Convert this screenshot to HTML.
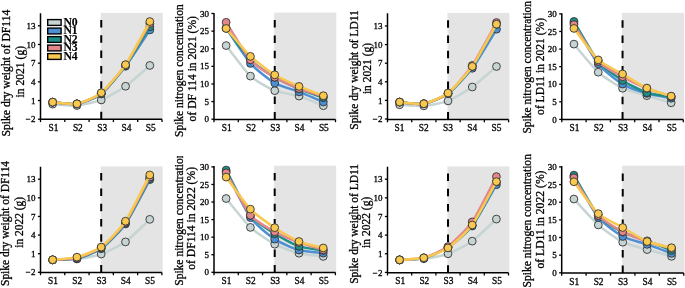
<!DOCTYPE html>
<html><head><meta charset="utf-8"><style>
html,body{margin:0;padding:0;background:#fff;width:685px;height:288px;overflow:hidden;}
svg{display:block;will-change:transform;font-family:"Liberation Serif", serif;}
text{stroke:#000;stroke-width:0.3;}
.lg{stroke-width:0.15;}
</style></head><body>
<svg width="685" height="288" viewBox="0 0 685 288" font-family='"Liberation Serif", serif'>
<defs><clipPath id="c6"><rect x="170" y="156.1" width="40" height="140"/></clipPath></defs>
<rect x="100.65" y="12.9" width="62.15" height="106.4" fill="#e4e4e4"/>
<line x1="101.25" y1="119.3" x2="101.25" y2="13.3" stroke="#000" stroke-width="2" stroke-dasharray="7.5 7.8"/>
<path d="M52.65 104.13 C55.08 104.27 72.09 105.92 76.95 105.5 C81.81 105.08 96.39 101.88 101.25 99.96 C106.11 98.04 120.69 89.71 125.55 86.26 C130.41 82.81 147.42 67.54 149.85 65.46" fill="none" stroke="#c6d4d3" stroke-width="2.5" stroke-linejoin="round"/>
<circle cx="52.65" cy="104.13" r="3.9" fill="#c6d4d3" stroke="#333" stroke-width="0.9"/>
<circle cx="76.95" cy="105.5" r="3.9" fill="#c6d4d3" stroke="#333" stroke-width="0.9"/>
<circle cx="101.25" cy="99.96" r="3.9" fill="#c6d4d3" stroke="#333" stroke-width="0.9"/>
<circle cx="125.55" cy="86.26" r="3.9" fill="#c6d4d3" stroke="#333" stroke-width="0.9"/>
<circle cx="149.85" cy="65.46" r="3.9" fill="#c6d4d3" stroke="#333" stroke-width="0.9"/>
<path d="M52.65 102.2 C55.08 102.37 72.09 104.7 76.95 103.88 C81.81 103.06 96.39 97.74 101.25 93.98 C106.11 90.22 120.69 72.68 125.55 66.27 C130.41 59.87 147.42 33.55 149.85 29.91" fill="none" stroke="#4d8fd3" stroke-width="2.5" stroke-linejoin="round"/>
<circle cx="52.65" cy="102.2" r="3.9" fill="#4d8fd3" stroke="#333" stroke-width="0.9"/>
<circle cx="76.95" cy="103.88" r="3.9" fill="#4d8fd3" stroke="#333" stroke-width="0.9"/>
<circle cx="101.25" cy="93.98" r="3.9" fill="#4d8fd3" stroke="#333" stroke-width="0.9"/>
<circle cx="125.55" cy="66.27" r="3.9" fill="#4d8fd3" stroke="#333" stroke-width="0.9"/>
<circle cx="149.85" cy="29.91" r="3.9" fill="#4d8fd3" stroke="#333" stroke-width="0.9"/>
<path d="M52.65 102.2 C55.08 102.37 72.09 104.74 76.95 103.88 C81.81 103.03 96.39 97.51 101.25 93.67 C106.11 89.84 120.69 72.23 125.55 65.53 C130.41 58.83 147.42 30.56 149.85 26.67" fill="none" stroke="#1c8f86" stroke-width="2.5" stroke-linejoin="round"/>
<circle cx="52.65" cy="102.2" r="3.9" fill="#1c8f86" stroke="#333" stroke-width="0.9"/>
<circle cx="76.95" cy="103.88" r="3.9" fill="#1c8f86" stroke="#333" stroke-width="0.9"/>
<circle cx="101.25" cy="93.67" r="3.9" fill="#1c8f86" stroke="#333" stroke-width="0.9"/>
<circle cx="125.55" cy="65.53" r="3.9" fill="#1c8f86" stroke="#333" stroke-width="0.9"/>
<circle cx="149.85" cy="26.67" r="3.9" fill="#1c8f86" stroke="#333" stroke-width="0.9"/>
<path d="M52.65 102.2 C55.08 102.37 72.09 104.77 76.95 103.88 C81.81 103 96.39 97.26 101.25 93.36 C106.11 89.46 120.69 71.9 125.55 64.9 C130.41 57.91 147.42 27.58 149.85 23.43" fill="none" stroke="#e4868a" stroke-width="2.5" stroke-linejoin="round"/>
<circle cx="52.65" cy="102.2" r="3.9" fill="#e4868a" stroke="#333" stroke-width="0.9"/>
<circle cx="76.95" cy="103.88" r="3.9" fill="#e4868a" stroke="#333" stroke-width="0.9"/>
<circle cx="101.25" cy="93.36" r="3.9" fill="#e4868a" stroke="#333" stroke-width="0.9"/>
<circle cx="125.55" cy="64.9" r="3.9" fill="#e4868a" stroke="#333" stroke-width="0.9"/>
<circle cx="149.85" cy="23.43" r="3.9" fill="#e4868a" stroke="#333" stroke-width="0.9"/>
<path d="M52.65 102.14 C55.08 102.31 72.09 104.76 76.95 103.82 C81.81 102.88 96.39 96.65 101.25 92.74 C106.11 88.83 120.69 71.83 125.55 64.72 C130.41 57.6 147.42 25.88 149.85 21.57" fill="none" stroke="#f8c84f" stroke-width="2.5" stroke-linejoin="round"/>
<circle cx="52.65" cy="102.14" r="3.9" fill="#f8c84f" stroke="#333" stroke-width="0.9"/>
<circle cx="76.95" cy="103.82" r="3.9" fill="#f8c84f" stroke="#333" stroke-width="0.9"/>
<circle cx="101.25" cy="92.74" r="3.9" fill="#f8c84f" stroke="#333" stroke-width="0.9"/>
<circle cx="125.55" cy="64.72" r="3.9" fill="#f8c84f" stroke="#333" stroke-width="0.9"/>
<circle cx="149.85" cy="21.57" r="3.9" fill="#f8c84f" stroke="#333" stroke-width="0.9"/>
<path d="M40.5 13.3 V119.3 H162" fill="none" stroke="#000" stroke-width="1.5" stroke-linecap="butt"/>
<line x1="40.5" y1="119.3" x2="40.5" y2="122.1" stroke="#000" stroke-width="1.3"/>
<line x1="64.8" y1="119.3" x2="64.8" y2="122.1" stroke="#000" stroke-width="1.3"/>
<line x1="89.1" y1="119.3" x2="89.1" y2="122.1" stroke="#000" stroke-width="1.3"/>
<line x1="113.4" y1="119.3" x2="113.4" y2="122.1" stroke="#000" stroke-width="1.3"/>
<line x1="137.7" y1="119.3" x2="137.7" y2="122.1" stroke="#000" stroke-width="1.3"/>
<line x1="162" y1="119.3" x2="162" y2="122.1" stroke="#000" stroke-width="1.3"/>
<line x1="37.9" y1="119.2" x2="40.5" y2="119.2" stroke="#000" stroke-width="1.3"/>
<text x="35.5" y="122.3" text-anchor="end" font-size="9">−<tspan dx="0.7">2</tspan></text>
<line x1="37.9" y1="100.52" x2="40.5" y2="100.52" stroke="#000" stroke-width="1.3"/>
<text x="35.5" y="103.62" text-anchor="end" font-size="9">1</text>
<line x1="37.9" y1="81.84" x2="40.5" y2="81.84" stroke="#000" stroke-width="1.3"/>
<text x="35.5" y="84.94" text-anchor="end" font-size="9">4</text>
<line x1="37.9" y1="63.16" x2="40.5" y2="63.16" stroke="#000" stroke-width="1.3"/>
<text x="35.5" y="66.26" text-anchor="end" font-size="9">7</text>
<line x1="37.9" y1="44.48" x2="40.5" y2="44.48" stroke="#000" stroke-width="1.3"/>
<text x="35.5" y="47.58" text-anchor="end" font-size="9">10</text>
<line x1="37.9" y1="25.8" x2="40.5" y2="25.8" stroke="#000" stroke-width="1.3"/>
<text x="35.5" y="28.9" text-anchor="end" font-size="9">13</text>
<text x="53.55" y="130.9" text-anchor="middle" font-size="9.4">S1</text>
<text x="77.85" y="130.9" text-anchor="middle" font-size="9.4">S2</text>
<text x="102.15" y="130.9" text-anchor="middle" font-size="9.4">S3</text>
<text x="126.45" y="130.9" text-anchor="middle" font-size="9.4">S4</text>
<text x="150.75" y="130.9" text-anchor="middle" font-size="9.4">S5</text>
<text transform="translate(10.2 73.1) rotate(-90)" text-anchor="middle" font-size="11.45" textLength="126.8" lengthAdjust="spacingAndGlyphs" class="lab">Spike dry weight of DF114</text>
<text transform="translate(23.5 71.7) rotate(-90)" text-anchor="middle" font-size="11.45" textLength="51.4" lengthAdjust="spacingAndGlyphs" class="lab">in 2021 (g)</text>
<rect x="274.15" y="12.6" width="62.15" height="106.8" fill="#e4e4e4"/>
<line x1="274.75" y1="119.4" x2="274.75" y2="13" stroke="#000" stroke-width="2" stroke-dasharray="7.5 7.8"/>
<path d="M226.15 45.56 C228.58 48.62 245.59 71.6 250.45 76.11 C255.31 80.62 269.89 88.66 274.75 90.66 C279.61 92.66 294.19 94.58 299.05 96.09 C303.91 97.59 320.92 104.74 323.35 105.71" fill="none" stroke="#c6d4d3" stroke-width="2.5" stroke-linejoin="round"/>
<circle cx="226.15" cy="45.56" r="3.9" fill="#c6d4d3" stroke="#333" stroke-width="0.9"/>
<circle cx="250.45" cy="76.11" r="3.9" fill="#c6d4d3" stroke="#333" stroke-width="0.9"/>
<circle cx="274.75" cy="90.66" r="3.9" fill="#c6d4d3" stroke="#333" stroke-width="0.9"/>
<circle cx="299.05" cy="96.09" r="3.9" fill="#c6d4d3" stroke="#333" stroke-width="0.9"/>
<circle cx="323.35" cy="105.71" r="3.9" fill="#c6d4d3" stroke="#333" stroke-width="0.9"/>
<path d="M226.15 28.3 C228.58 31.81 245.59 57.91 250.45 63.39 C255.31 68.87 269.89 80.24 274.75 83.09 C279.61 85.94 294.19 90 299.05 91.89 C303.91 93.79 320.92 100.99 323.35 102.01" fill="none" stroke="#4d8fd3" stroke-width="2.5" stroke-linejoin="round"/>
<circle cx="226.15" cy="28.3" r="3.9" fill="#4d8fd3" stroke="#333" stroke-width="0.9"/>
<circle cx="250.45" cy="63.39" r="3.9" fill="#4d8fd3" stroke="#333" stroke-width="0.9"/>
<circle cx="274.75" cy="83.09" r="3.9" fill="#4d8fd3" stroke="#333" stroke-width="0.9"/>
<circle cx="299.05" cy="91.89" r="3.9" fill="#4d8fd3" stroke="#333" stroke-width="0.9"/>
<circle cx="323.35" cy="102.01" r="3.9" fill="#4d8fd3" stroke="#333" stroke-width="0.9"/>
<path d="M226.15 27.95 C228.58 31.14 245.59 54.97 250.45 59.9 C255.31 64.83 269.89 74.37 274.75 77.27 C279.61 80.17 294.19 86.86 299.05 88.9 C303.91 90.94 320.92 96.83 323.35 97.71" fill="none" stroke="#1c8f86" stroke-width="2.5" stroke-linejoin="round"/>
<circle cx="226.15" cy="27.95" r="3.9" fill="#1c8f86" stroke="#333" stroke-width="0.9"/>
<circle cx="250.45" cy="59.9" r="3.9" fill="#1c8f86" stroke="#333" stroke-width="0.9"/>
<circle cx="274.75" cy="77.27" r="3.9" fill="#1c8f86" stroke="#333" stroke-width="0.9"/>
<circle cx="299.05" cy="88.9" r="3.9" fill="#1c8f86" stroke="#333" stroke-width="0.9"/>
<circle cx="323.35" cy="97.71" r="3.9" fill="#1c8f86" stroke="#333" stroke-width="0.9"/>
<path d="M226.15 22.31 C228.58 26.07 245.59 54.41 250.45 59.9 C255.31 65.4 269.89 74.4 274.75 77.27 C279.61 80.14 294.19 86.71 299.05 88.62 C303.91 90.52 320.92 95.53 323.35 96.3" fill="none" stroke="#e4868a" stroke-width="2.5" stroke-linejoin="round"/>
<circle cx="226.15" cy="22.31" r="3.9" fill="#e4868a" stroke="#333" stroke-width="0.9"/>
<circle cx="250.45" cy="59.9" r="3.9" fill="#e4868a" stroke="#333" stroke-width="0.9"/>
<circle cx="274.75" cy="77.27" r="3.9" fill="#e4868a" stroke="#333" stroke-width="0.9"/>
<circle cx="299.05" cy="88.62" r="3.9" fill="#e4868a" stroke="#333" stroke-width="0.9"/>
<circle cx="323.35" cy="96.3" r="3.9" fill="#e4868a" stroke="#333" stroke-width="0.9"/>
<path d="M226.15 28.47 C228.58 31.26 245.59 51.75 250.45 56.38 C255.31 61.01 269.89 71.8 274.75 74.81 C279.61 77.81 294.19 84.31 299.05 86.4 C303.91 88.49 320.92 94.77 323.35 95.7" fill="none" stroke="#f8c84f" stroke-width="2.5" stroke-linejoin="round"/>
<circle cx="226.15" cy="28.47" r="3.9" fill="#f8c84f" stroke="#333" stroke-width="0.9"/>
<circle cx="250.45" cy="56.38" r="3.9" fill="#f8c84f" stroke="#333" stroke-width="0.9"/>
<circle cx="274.75" cy="74.81" r="3.9" fill="#f8c84f" stroke="#333" stroke-width="0.9"/>
<circle cx="299.05" cy="86.4" r="3.9" fill="#f8c84f" stroke="#333" stroke-width="0.9"/>
<circle cx="323.35" cy="95.7" r="3.9" fill="#f8c84f" stroke="#333" stroke-width="0.9"/>
<path d="M214 13 V119.4 H335.5" fill="none" stroke="#000" stroke-width="1.5" stroke-linecap="butt"/>
<line x1="214" y1="119.4" x2="214" y2="122.2" stroke="#000" stroke-width="1.3"/>
<line x1="238.3" y1="119.4" x2="238.3" y2="122.2" stroke="#000" stroke-width="1.3"/>
<line x1="262.6" y1="119.4" x2="262.6" y2="122.2" stroke="#000" stroke-width="1.3"/>
<line x1="286.9" y1="119.4" x2="286.9" y2="122.2" stroke="#000" stroke-width="1.3"/>
<line x1="311.2" y1="119.4" x2="311.2" y2="122.2" stroke="#000" stroke-width="1.3"/>
<line x1="335.5" y1="119.4" x2="335.5" y2="122.2" stroke="#000" stroke-width="1.3"/>
<line x1="211.4" y1="119.2" x2="214" y2="119.2" stroke="#000" stroke-width="1.3"/>
<text x="209" y="122.3" text-anchor="end" font-size="9">0</text>
<line x1="211.4" y1="101.58" x2="214" y2="101.58" stroke="#000" stroke-width="1.3"/>
<text x="209" y="104.68" text-anchor="end" font-size="9">5</text>
<line x1="211.4" y1="83.97" x2="214" y2="83.97" stroke="#000" stroke-width="1.3"/>
<text x="209" y="87.07" text-anchor="end" font-size="9">10</text>
<line x1="211.4" y1="66.35" x2="214" y2="66.35" stroke="#000" stroke-width="1.3"/>
<text x="209" y="69.45" text-anchor="end" font-size="9">15</text>
<line x1="211.4" y1="48.73" x2="214" y2="48.73" stroke="#000" stroke-width="1.3"/>
<text x="209" y="51.83" text-anchor="end" font-size="9">20</text>
<line x1="211.4" y1="31.12" x2="214" y2="31.12" stroke="#000" stroke-width="1.3"/>
<text x="209" y="34.22" text-anchor="end" font-size="9">25</text>
<line x1="211.4" y1="13.5" x2="214" y2="13.5" stroke="#000" stroke-width="1.3"/>
<text x="209" y="16.6" text-anchor="end" font-size="9">30</text>
<text x="226.65" y="131" text-anchor="middle" font-size="9.4">S1</text>
<text x="250.95" y="131" text-anchor="middle" font-size="9.4">S2</text>
<text x="275.25" y="131" text-anchor="middle" font-size="9.4">S3</text>
<text x="299.55" y="131" text-anchor="middle" font-size="9.4">S4</text>
<text x="323.85" y="131" text-anchor="middle" font-size="9.4">S5</text>
<text transform="translate(183.1 70.6) rotate(-90)" text-anchor="middle" font-size="11.45" textLength="132.8" lengthAdjust="spacingAndGlyphs" class="lab">Spike nitrogen concentration</text>
<text transform="translate(195.5 68.75) rotate(-90)" text-anchor="middle" font-size="11.45" textLength="105.3" lengthAdjust="spacingAndGlyphs" class="lab">of DF 114 in 2021 (%)</text>
<rect x="447.45" y="12.9" width="61.95" height="106.6" fill="#e4e4e4"/>
<line x1="448.05" y1="119.5" x2="448.05" y2="13.3" stroke="#000" stroke-width="2" stroke-dasharray="7.5 7.8"/>
<path d="M399.61 104.74 C402.03 104.85 418.99 106.24 423.83 105.86 C428.67 105.47 443.21 102.78 448.05 100.9 C452.89 99.01 467.43 90.45 472.27 87.01 C477.11 83.57 494.07 68.54 496.49 66.49" fill="none" stroke="#c6d4d3" stroke-width="2.5" stroke-linejoin="round"/>
<circle cx="399.61" cy="104.74" r="3.9" fill="#c6d4d3" stroke="#333" stroke-width="0.9"/>
<circle cx="423.83" cy="105.86" r="3.9" fill="#c6d4d3" stroke="#333" stroke-width="0.9"/>
<circle cx="448.05" cy="100.9" r="3.9" fill="#c6d4d3" stroke="#333" stroke-width="0.9"/>
<circle cx="472.27" cy="87.01" r="3.9" fill="#c6d4d3" stroke="#333" stroke-width="0.9"/>
<circle cx="496.49" cy="66.49" r="3.9" fill="#c6d4d3" stroke="#333" stroke-width="0.9"/>
<path d="M399.61 102.07 C402.03 102.24 418.99 104.6 423.83 103.75 C428.67 102.9 443.21 97.13 448.05 93.58 C452.89 90.03 467.43 74.72 472.27 68.28 C477.11 61.85 494.07 33.13 496.49 29.22" fill="none" stroke="#4d8fd3" stroke-width="2.5" stroke-linejoin="round"/>
<circle cx="399.61" cy="102.07" r="3.9" fill="#4d8fd3" stroke="#333" stroke-width="0.9"/>
<circle cx="423.83" cy="103.75" r="3.9" fill="#4d8fd3" stroke="#333" stroke-width="0.9"/>
<circle cx="448.05" cy="93.58" r="3.9" fill="#4d8fd3" stroke="#333" stroke-width="0.9"/>
<circle cx="472.27" cy="68.28" r="3.9" fill="#4d8fd3" stroke="#333" stroke-width="0.9"/>
<circle cx="496.49" cy="29.22" r="3.9" fill="#4d8fd3" stroke="#333" stroke-width="0.9"/>
<path d="M399.61 102.07 C402.03 102.24 418.99 104.6 423.83 103.75 C428.67 102.9 443.21 97.29 448.05 93.58 C452.89 89.87 467.43 73.52 472.27 66.61 C477.11 59.7 494.07 28.67 496.49 24.45" fill="none" stroke="#1c8f86" stroke-width="2.5" stroke-linejoin="round"/>
<circle cx="399.61" cy="102.07" r="3.9" fill="#1c8f86" stroke="#333" stroke-width="0.9"/>
<circle cx="423.83" cy="103.75" r="3.9" fill="#1c8f86" stroke="#333" stroke-width="0.9"/>
<circle cx="448.05" cy="93.58" r="3.9" fill="#1c8f86" stroke="#333" stroke-width="0.9"/>
<circle cx="472.27" cy="66.61" r="3.9" fill="#1c8f86" stroke="#333" stroke-width="0.9"/>
<circle cx="496.49" cy="24.45" r="3.9" fill="#1c8f86" stroke="#333" stroke-width="0.9"/>
<path d="M399.61 102.07 C402.03 102.24 418.99 104.61 423.83 103.75 C428.67 102.89 443.21 97.28 448.05 93.46 C452.89 89.63 467.43 72.59 472.27 65.49 C477.11 58.4 494.07 26.82 496.49 22.53" fill="none" stroke="#e4868a" stroke-width="2.5" stroke-linejoin="round"/>
<circle cx="399.61" cy="102.07" r="3.9" fill="#e4868a" stroke="#333" stroke-width="0.9"/>
<circle cx="423.83" cy="103.75" r="3.9" fill="#e4868a" stroke="#333" stroke-width="0.9"/>
<circle cx="448.05" cy="93.46" r="3.9" fill="#e4868a" stroke="#333" stroke-width="0.9"/>
<circle cx="472.27" cy="65.49" r="3.9" fill="#e4868a" stroke="#333" stroke-width="0.9"/>
<circle cx="496.49" cy="22.53" r="3.9" fill="#e4868a" stroke="#333" stroke-width="0.9"/>
<path d="M399.61 102.07 C402.03 102.24 418.99 104.65 423.83 103.75 C428.67 102.84 443.21 96.75 448.05 93.02 C452.89 89.29 467.43 73.31 472.27 66.42 C477.11 59.54 494.07 28.42 496.49 24.2" fill="none" stroke="#f8c84f" stroke-width="2.5" stroke-linejoin="round"/>
<circle cx="399.61" cy="102.07" r="3.9" fill="#f8c84f" stroke="#333" stroke-width="0.9"/>
<circle cx="423.83" cy="103.75" r="3.9" fill="#f8c84f" stroke="#333" stroke-width="0.9"/>
<circle cx="448.05" cy="93.02" r="3.9" fill="#f8c84f" stroke="#333" stroke-width="0.9"/>
<circle cx="472.27" cy="66.42" r="3.9" fill="#f8c84f" stroke="#333" stroke-width="0.9"/>
<circle cx="496.49" cy="24.2" r="3.9" fill="#f8c84f" stroke="#333" stroke-width="0.9"/>
<path d="M387.5 13.3 V119.5 H508.6" fill="none" stroke="#000" stroke-width="1.5" stroke-linecap="butt"/>
<line x1="387.5" y1="119.5" x2="387.5" y2="122.3" stroke="#000" stroke-width="1.3"/>
<line x1="411.72" y1="119.5" x2="411.72" y2="122.3" stroke="#000" stroke-width="1.3"/>
<line x1="435.94" y1="119.5" x2="435.94" y2="122.3" stroke="#000" stroke-width="1.3"/>
<line x1="460.16" y1="119.5" x2="460.16" y2="122.3" stroke="#000" stroke-width="1.3"/>
<line x1="484.38" y1="119.5" x2="484.38" y2="122.3" stroke="#000" stroke-width="1.3"/>
<line x1="508.6" y1="119.5" x2="508.6" y2="122.3" stroke="#000" stroke-width="1.3"/>
<line x1="384.9" y1="119" x2="387.5" y2="119" stroke="#000" stroke-width="1.3"/>
<text x="382.5" y="122.1" text-anchor="end" font-size="9">−<tspan dx="0.7">2</tspan></text>
<line x1="384.9" y1="100.4" x2="387.5" y2="100.4" stroke="#000" stroke-width="1.3"/>
<text x="382.5" y="103.5" text-anchor="end" font-size="9">1</text>
<line x1="384.9" y1="81.8" x2="387.5" y2="81.8" stroke="#000" stroke-width="1.3"/>
<text x="382.5" y="84.9" text-anchor="end" font-size="9">4</text>
<line x1="384.9" y1="63.2" x2="387.5" y2="63.2" stroke="#000" stroke-width="1.3"/>
<text x="382.5" y="66.3" text-anchor="end" font-size="9">7</text>
<line x1="384.9" y1="44.6" x2="387.5" y2="44.6" stroke="#000" stroke-width="1.3"/>
<text x="382.5" y="47.7" text-anchor="end" font-size="9">10</text>
<line x1="384.9" y1="26" x2="387.5" y2="26" stroke="#000" stroke-width="1.3"/>
<text x="382.5" y="29.1" text-anchor="end" font-size="9">13</text>
<text x="399.51" y="131.1" text-anchor="middle" font-size="9.4">S1</text>
<text x="423.73" y="131.1" text-anchor="middle" font-size="9.4">S2</text>
<text x="447.95" y="131.1" text-anchor="middle" font-size="9.4">S3</text>
<text x="472.17" y="131.1" text-anchor="middle" font-size="9.4">S4</text>
<text x="496.39" y="131.1" text-anchor="middle" font-size="9.4">S5</text>
<text transform="translate(357.8 70) rotate(-90)" text-anchor="middle" font-size="11.45" textLength="119.4" lengthAdjust="spacingAndGlyphs" class="lab">Spike dry weight of LD11</text>
<text transform="translate(370.5 68.5) rotate(-90)" text-anchor="middle" font-size="11.45" textLength="51.2" lengthAdjust="spacingAndGlyphs" class="lab">in 2021 (g)</text>
<rect x="621.95" y="12.85" width="62.15" height="106.65" fill="#e4e4e4"/>
<line x1="622.55" y1="119.5" x2="622.55" y2="13.25" stroke="#000" stroke-width="2" stroke-dasharray="7.5 7.8"/>
<path d="M573.95 44.14 C576.38 46.95 593.39 67.8 598.25 72.21 C603.11 76.62 617.69 85.9 622.55 88.24 C627.41 90.59 641.99 94.21 646.85 95.66 C651.71 97.12 668.72 102.09 671.15 102.8" fill="none" stroke="#c6d4d3" stroke-width="2.5" stroke-linejoin="round"/>
<circle cx="573.95" cy="44.14" r="3.9" fill="#c6d4d3" stroke="#333" stroke-width="0.9"/>
<circle cx="598.25" cy="72.21" r="3.9" fill="#c6d4d3" stroke="#333" stroke-width="0.9"/>
<circle cx="622.55" cy="88.24" r="3.9" fill="#c6d4d3" stroke="#333" stroke-width="0.9"/>
<circle cx="646.85" cy="95.66" r="3.9" fill="#c6d4d3" stroke="#333" stroke-width="0.9"/>
<circle cx="671.15" cy="102.8" r="3.9" fill="#c6d4d3" stroke="#333" stroke-width="0.9"/>
<path d="M573.95 23.04 C576.38 27.13 593.39 57.81 598.25 63.91 C603.11 70.01 617.69 81.11 622.55 84.06 C627.41 87 641.99 91.96 646.85 93.38 C651.71 94.8 668.72 97.78 671.15 98.26" fill="none" stroke="#4d8fd3" stroke-width="2.5" stroke-linejoin="round"/>
<circle cx="573.95" cy="23.04" r="3.9" fill="#4d8fd3" stroke="#333" stroke-width="0.9"/>
<circle cx="598.25" cy="63.91" r="3.9" fill="#4d8fd3" stroke="#333" stroke-width="0.9"/>
<circle cx="622.55" cy="84.06" r="3.9" fill="#4d8fd3" stroke="#333" stroke-width="0.9"/>
<circle cx="646.85" cy="93.38" r="3.9" fill="#4d8fd3" stroke="#333" stroke-width="0.9"/>
<circle cx="671.15" cy="98.26" r="3.9" fill="#4d8fd3" stroke="#333" stroke-width="0.9"/>
<path d="M573.95 21.43 C576.38 25.44 593.39 55.65 598.25 61.55 C603.11 67.45 617.69 77.32 622.55 80.44 C627.41 83.55 641.99 91.11 646.85 92.74 C651.71 94.38 668.72 96.38 671.15 96.79" fill="none" stroke="#1c8f86" stroke-width="2.5" stroke-linejoin="round"/>
<circle cx="573.95" cy="21.43" r="3.9" fill="#1c8f86" stroke="#333" stroke-width="0.9"/>
<circle cx="598.25" cy="61.55" r="3.9" fill="#1c8f86" stroke="#333" stroke-width="0.9"/>
<circle cx="622.55" cy="80.44" r="3.9" fill="#1c8f86" stroke="#333" stroke-width="0.9"/>
<circle cx="646.85" cy="92.74" r="3.9" fill="#1c8f86" stroke="#333" stroke-width="0.9"/>
<circle cx="671.15" cy="96.79" r="3.9" fill="#1c8f86" stroke="#333" stroke-width="0.9"/>
<path d="M573.95 24.63 C576.38 28.3 593.39 56.2 598.25 61.41 C603.11 66.62 617.69 74.04 622.55 76.74 C627.41 79.45 641.99 86.49 646.85 88.45 C651.71 90.42 668.72 95.57 671.15 96.37" fill="none" stroke="#e4868a" stroke-width="2.5" stroke-linejoin="round"/>
<circle cx="573.95" cy="24.63" r="3.9" fill="#e4868a" stroke="#333" stroke-width="0.9"/>
<circle cx="598.25" cy="61.41" r="3.9" fill="#e4868a" stroke="#333" stroke-width="0.9"/>
<circle cx="622.55" cy="76.74" r="3.9" fill="#e4868a" stroke="#333" stroke-width="0.9"/>
<circle cx="646.85" cy="88.45" r="3.9" fill="#e4868a" stroke="#333" stroke-width="0.9"/>
<circle cx="671.15" cy="96.37" r="3.9" fill="#e4868a" stroke="#333" stroke-width="0.9"/>
<path d="M573.95 28.42 C576.38 31.57 593.39 55.34 598.25 59.9 C603.11 64.46 617.69 71.18 622.55 74 C627.41 76.82 641.99 85.89 646.85 88.1 C651.71 90.31 668.72 95.32 671.15 96.12" fill="none" stroke="#f8c84f" stroke-width="2.5" stroke-linejoin="round"/>
<circle cx="573.95" cy="28.42" r="3.9" fill="#f8c84f" stroke="#333" stroke-width="0.9"/>
<circle cx="598.25" cy="59.9" r="3.9" fill="#f8c84f" stroke="#333" stroke-width="0.9"/>
<circle cx="622.55" cy="74" r="3.9" fill="#f8c84f" stroke="#333" stroke-width="0.9"/>
<circle cx="646.85" cy="88.1" r="3.9" fill="#f8c84f" stroke="#333" stroke-width="0.9"/>
<circle cx="671.15" cy="96.12" r="3.9" fill="#f8c84f" stroke="#333" stroke-width="0.9"/>
<path d="M561.8 13.25 V119.5 H683.3" fill="none" stroke="#000" stroke-width="1.5" stroke-linecap="butt"/>
<line x1="561.8" y1="119.5" x2="561.8" y2="122.3" stroke="#000" stroke-width="1.3"/>
<line x1="586.1" y1="119.5" x2="586.1" y2="122.3" stroke="#000" stroke-width="1.3"/>
<line x1="610.4" y1="119.5" x2="610.4" y2="122.3" stroke="#000" stroke-width="1.3"/>
<line x1="634.7" y1="119.5" x2="634.7" y2="122.3" stroke="#000" stroke-width="1.3"/>
<line x1="659" y1="119.5" x2="659" y2="122.3" stroke="#000" stroke-width="1.3"/>
<line x1="683.3" y1="119.5" x2="683.3" y2="122.3" stroke="#000" stroke-width="1.3"/>
<line x1="559.2" y1="119.4" x2="561.8" y2="119.4" stroke="#000" stroke-width="1.3"/>
<text x="556.8" y="122.5" text-anchor="end" font-size="9">0</text>
<line x1="559.2" y1="101.82" x2="561.8" y2="101.82" stroke="#000" stroke-width="1.3"/>
<text x="556.8" y="104.92" text-anchor="end" font-size="9">5</text>
<line x1="559.2" y1="84.23" x2="561.8" y2="84.23" stroke="#000" stroke-width="1.3"/>
<text x="556.8" y="87.33" text-anchor="end" font-size="9">10</text>
<line x1="559.2" y1="66.65" x2="561.8" y2="66.65" stroke="#000" stroke-width="1.3"/>
<text x="556.8" y="69.75" text-anchor="end" font-size="9">15</text>
<line x1="559.2" y1="49.07" x2="561.8" y2="49.07" stroke="#000" stroke-width="1.3"/>
<text x="556.8" y="52.17" text-anchor="end" font-size="9">20</text>
<line x1="559.2" y1="31.48" x2="561.8" y2="31.48" stroke="#000" stroke-width="1.3"/>
<text x="556.8" y="34.58" text-anchor="end" font-size="9">25</text>
<line x1="559.2" y1="13.9" x2="561.8" y2="13.9" stroke="#000" stroke-width="1.3"/>
<text x="556.8" y="17" text-anchor="end" font-size="9">30</text>
<text x="574.45" y="131.1" text-anchor="middle" font-size="9.4">S1</text>
<text x="598.75" y="131.1" text-anchor="middle" font-size="9.4">S2</text>
<text x="623.05" y="131.1" text-anchor="middle" font-size="9.4">S3</text>
<text x="647.35" y="131.1" text-anchor="middle" font-size="9.4">S4</text>
<text x="671.65" y="131.1" text-anchor="middle" font-size="9.4">S5</text>
<text transform="translate(531.2 67.25) rotate(-90)" text-anchor="middle" font-size="11.45" textLength="132.7" lengthAdjust="spacingAndGlyphs" class="lab">Spike nitrogen concentration</text>
<text transform="translate(543.9 66.45) rotate(-90)" text-anchor="middle" font-size="11.45" textLength="96.9" lengthAdjust="spacingAndGlyphs" class="lab">of LD11 in 2021 (%)</text>
<rect x="100.6" y="166.4" width="62.1" height="106" fill="#e4e4e4"/>
<line x1="101.2" y1="272.4" x2="101.2" y2="166.8" stroke="#000" stroke-width="2" stroke-dasharray="7.5 7.8"/>
<path d="M52.64 259.89 C55.07 259.79 72.06 259.54 76.92 258.96 C81.78 258.37 96.34 255.76 101.2 254.05 C106.06 252.35 120.62 245.36 125.48 241.89 C130.34 238.42 147.33 221.61 149.76 219.36" fill="none" stroke="#c6d4d3" stroke-width="2.5" stroke-linejoin="round"/>
<circle cx="52.64" cy="259.89" r="3.9" fill="#c6d4d3" stroke="#333" stroke-width="0.9"/>
<circle cx="76.92" cy="258.96" r="3.9" fill="#c6d4d3" stroke="#333" stroke-width="0.9"/>
<circle cx="101.2" cy="254.05" r="3.9" fill="#c6d4d3" stroke="#333" stroke-width="0.9"/>
<circle cx="125.48" cy="241.89" r="3.9" fill="#c6d4d3" stroke="#333" stroke-width="0.9"/>
<circle cx="149.76" cy="219.36" r="3.9" fill="#c6d4d3" stroke="#333" stroke-width="0.9"/>
<path d="M52.64 259.89 C55.07 259.76 72.06 259.76 76.92 258.65 C81.78 257.53 96.34 252.18 101.2 248.71 C106.06 245.25 120.62 230.86 125.48 223.95 C130.34 217.04 147.33 184.07 149.76 179.63" fill="none" stroke="#4d8fd3" stroke-width="2.5" stroke-linejoin="round"/>
<circle cx="52.64" cy="259.89" r="3.9" fill="#4d8fd3" stroke="#333" stroke-width="0.9"/>
<circle cx="76.92" cy="258.65" r="3.9" fill="#4d8fd3" stroke="#333" stroke-width="0.9"/>
<circle cx="101.2" cy="248.71" r="3.9" fill="#4d8fd3" stroke="#333" stroke-width="0.9"/>
<circle cx="125.48" cy="223.95" r="3.9" fill="#4d8fd3" stroke="#333" stroke-width="0.9"/>
<circle cx="149.76" cy="179.63" r="3.9" fill="#4d8fd3" stroke="#333" stroke-width="0.9"/>
<path d="M52.64 259.89 C55.07 259.73 72.06 259.51 76.92 258.34 C81.78 257.16 96.34 251.63 101.2 248.09 C106.06 244.56 120.62 229.91 125.48 222.96 C130.34 216.01 147.33 183.02 149.76 178.58" fill="none" stroke="#1c8f86" stroke-width="2.5" stroke-linejoin="round"/>
<circle cx="52.64" cy="259.89" r="3.9" fill="#1c8f86" stroke="#333" stroke-width="0.9"/>
<circle cx="76.92" cy="258.34" r="3.9" fill="#1c8f86" stroke="#333" stroke-width="0.9"/>
<circle cx="101.2" cy="248.09" r="3.9" fill="#1c8f86" stroke="#333" stroke-width="0.9"/>
<circle cx="125.48" cy="222.96" r="3.9" fill="#1c8f86" stroke="#333" stroke-width="0.9"/>
<circle cx="149.76" cy="178.58" r="3.9" fill="#1c8f86" stroke="#333" stroke-width="0.9"/>
<path d="M52.64 259.89 C55.07 259.7 72.06 259.27 76.92 258.02 C81.78 256.78 96.34 251.04 101.2 247.47 C106.06 243.9 120.62 229.38 125.48 222.34 C130.34 215.29 147.33 181.56 149.76 177.03" fill="none" stroke="#e4868a" stroke-width="2.5" stroke-linejoin="round"/>
<circle cx="52.64" cy="259.89" r="3.9" fill="#e4868a" stroke="#333" stroke-width="0.9"/>
<circle cx="76.92" cy="258.02" r="3.9" fill="#e4868a" stroke="#333" stroke-width="0.9"/>
<circle cx="101.2" cy="247.47" r="3.9" fill="#e4868a" stroke="#333" stroke-width="0.9"/>
<circle cx="125.48" cy="222.34" r="3.9" fill="#e4868a" stroke="#333" stroke-width="0.9"/>
<circle cx="149.76" cy="177.03" r="3.9" fill="#e4868a" stroke="#333" stroke-width="0.9"/>
<path d="M52.64 259.76 C55.07 259.5 72.06 258.42 76.92 257.16 C81.78 255.89 96.34 250.69 101.2 247.1 C106.06 243.51 120.62 228.43 125.48 221.22 C130.34 214.01 147.33 179.6 149.76 174.98" fill="none" stroke="#f8c84f" stroke-width="2.5" stroke-linejoin="round"/>
<circle cx="52.64" cy="259.76" r="3.9" fill="#f8c84f" stroke="#333" stroke-width="0.9"/>
<circle cx="76.92" cy="257.16" r="3.9" fill="#f8c84f" stroke="#333" stroke-width="0.9"/>
<circle cx="101.2" cy="247.1" r="3.9" fill="#f8c84f" stroke="#333" stroke-width="0.9"/>
<circle cx="125.48" cy="221.22" r="3.9" fill="#f8c84f" stroke="#333" stroke-width="0.9"/>
<circle cx="149.76" cy="174.98" r="3.9" fill="#f8c84f" stroke="#333" stroke-width="0.9"/>
<path d="M40.5 166.8 V272.4 H161.9" fill="none" stroke="#000" stroke-width="1.5" stroke-linecap="butt"/>
<line x1="40.5" y1="272.4" x2="40.5" y2="275.2" stroke="#000" stroke-width="1.3"/>
<line x1="64.78" y1="272.4" x2="64.78" y2="275.2" stroke="#000" stroke-width="1.3"/>
<line x1="89.06" y1="272.4" x2="89.06" y2="275.2" stroke="#000" stroke-width="1.3"/>
<line x1="113.34" y1="272.4" x2="113.34" y2="275.2" stroke="#000" stroke-width="1.3"/>
<line x1="137.62" y1="272.4" x2="137.62" y2="275.2" stroke="#000" stroke-width="1.3"/>
<line x1="161.9" y1="272.4" x2="161.9" y2="275.2" stroke="#000" stroke-width="1.3"/>
<line x1="37.9" y1="272.3" x2="40.5" y2="272.3" stroke="#000" stroke-width="1.3"/>
<text x="35.5" y="275.4" text-anchor="end" font-size="9">−<tspan dx="0.7">2</tspan></text>
<line x1="37.9" y1="253.68" x2="40.5" y2="253.68" stroke="#000" stroke-width="1.3"/>
<text x="35.5" y="256.78" text-anchor="end" font-size="9">1</text>
<line x1="37.9" y1="235.06" x2="40.5" y2="235.06" stroke="#000" stroke-width="1.3"/>
<text x="35.5" y="238.16" text-anchor="end" font-size="9">4</text>
<line x1="37.9" y1="216.44" x2="40.5" y2="216.44" stroke="#000" stroke-width="1.3"/>
<text x="35.5" y="219.54" text-anchor="end" font-size="9">7</text>
<line x1="37.9" y1="197.82" x2="40.5" y2="197.82" stroke="#000" stroke-width="1.3"/>
<text x="35.5" y="200.92" text-anchor="end" font-size="9">10</text>
<line x1="37.9" y1="179.2" x2="40.5" y2="179.2" stroke="#000" stroke-width="1.3"/>
<text x="35.5" y="182.3" text-anchor="end" font-size="9">13</text>
<text x="52.94" y="284" text-anchor="middle" font-size="9.4">S1</text>
<text x="77.22" y="284" text-anchor="middle" font-size="9.4">S2</text>
<text x="101.5" y="284" text-anchor="middle" font-size="9.4">S3</text>
<text x="125.78" y="284" text-anchor="middle" font-size="9.4">S4</text>
<text x="150.06" y="284" text-anchor="middle" font-size="9.4">S5</text>
<text transform="translate(9.4 223.45) rotate(-90)" text-anchor="middle" font-size="11.45" textLength="125.1" lengthAdjust="spacingAndGlyphs" class="lab">Spike dry weight of DF114</text>
<text transform="translate(22.7 222.3) rotate(-90)" text-anchor="middle" font-size="11.45" textLength="50.8" lengthAdjust="spacingAndGlyphs" class="lab">in 2022 (g)</text>
<rect x="274.1" y="165.7" width="62.1" height="106.7" fill="#e4e4e4"/>
<line x1="274.7" y1="272.4" x2="274.7" y2="166.1" stroke="#000" stroke-width="2" stroke-dasharray="7.5 7.8"/>
<path d="M226.14 198.52 C228.57 201.41 245.56 222.83 250.42 227.4 C255.28 231.97 269.84 241.61 274.7 244.19 C279.56 246.78 294.12 252 298.98 253.22 C303.84 254.45 320.83 256.1 323.26 256.42" fill="none" stroke="#c6d4d3" stroke-width="2.5" stroke-linejoin="round"/>
<circle cx="226.14" cy="198.52" r="3.9" fill="#c6d4d3" stroke="#333" stroke-width="0.9"/>
<circle cx="250.42" cy="227.4" r="3.9" fill="#c6d4d3" stroke="#333" stroke-width="0.9"/>
<circle cx="274.7" cy="244.19" r="3.9" fill="#c6d4d3" stroke="#333" stroke-width="0.9"/>
<circle cx="298.98" cy="253.22" r="3.9" fill="#c6d4d3" stroke="#333" stroke-width="0.9"/>
<circle cx="323.26" cy="256.42" r="3.9" fill="#c6d4d3" stroke="#333" stroke-width="0.9"/>
<path d="M226.14 171.47 C228.57 176.08 245.56 210.83 250.42 217.6 C255.28 224.36 269.84 235.89 274.7 239.13 C279.56 242.38 294.12 248.67 298.98 250.06 C303.84 251.46 320.83 252.78 323.26 253.08" fill="none" stroke="#4d8fd3" stroke-width="2.5" stroke-linejoin="round"/>
<circle cx="226.14" cy="171.47" r="3.9" fill="#4d8fd3" stroke="#333" stroke-width="0.9"/>
<circle cx="250.42" cy="217.6" r="3.9" fill="#4d8fd3" stroke="#333" stroke-width="0.9"/>
<circle cx="274.7" cy="239.13" r="3.9" fill="#4d8fd3" stroke="#333" stroke-width="0.9"/>
<circle cx="298.98" cy="250.06" r="3.9" fill="#4d8fd3" stroke="#333" stroke-width="0.9"/>
<circle cx="323.26" cy="253.08" r="3.9" fill="#4d8fd3" stroke="#333" stroke-width="0.9"/>
<path d="M226.14 170.06 C228.57 174.59 245.56 209.01 250.42 215.38 C255.28 221.75 269.84 230.66 274.7 233.76 C279.56 236.86 294.12 244.73 298.98 246.41 C303.84 248.08 320.83 250.11 323.26 250.52" fill="none" stroke="#1c8f86" stroke-width="2.5" stroke-linejoin="round"/>
<circle cx="226.14" cy="170.06" r="3.9" fill="#1c8f86" stroke="#333" stroke-width="0.9"/>
<circle cx="250.42" cy="215.38" r="3.9" fill="#1c8f86" stroke="#333" stroke-width="0.9"/>
<circle cx="274.7" cy="233.76" r="3.9" fill="#1c8f86" stroke="#333" stroke-width="0.9"/>
<circle cx="298.98" cy="246.41" r="3.9" fill="#1c8f86" stroke="#333" stroke-width="0.9"/>
<circle cx="323.26" cy="250.52" r="3.9" fill="#1c8f86" stroke="#333" stroke-width="0.9"/>
<path d="M226.14 172.87 C228.57 177.11 245.56 209.32 250.42 215.21 C255.28 221.1 269.84 229.03 274.7 231.76 C279.56 234.48 294.12 240.62 298.98 242.44 C303.84 244.25 320.83 249.17 323.26 249.92" fill="none" stroke="#e4868a" stroke-width="2.5" stroke-linejoin="round"/>
<circle cx="226.14" cy="172.87" r="3.9" fill="#e4868a" stroke="#333" stroke-width="0.9"/>
<circle cx="250.42" cy="215.21" r="3.9" fill="#e4868a" stroke="#333" stroke-width="0.9"/>
<circle cx="274.7" cy="231.76" r="3.9" fill="#e4868a" stroke="#333" stroke-width="0.9"/>
<circle cx="298.98" cy="242.44" r="3.9" fill="#e4868a" stroke="#333" stroke-width="0.9"/>
<circle cx="323.26" cy="249.92" r="3.9" fill="#e4868a" stroke="#333" stroke-width="0.9"/>
<path d="M226.14 177.09 C228.57 180.29 245.56 204.07 250.42 209.13 C255.28 214.19 269.84 224.44 274.7 227.68 C279.56 230.92 294.12 239.46 298.98 241.49 C303.84 243.52 320.83 247.31 323.26 247.95" fill="none" stroke="#f8c84f" stroke-width="2.5" stroke-linejoin="round"/>
<circle cx="226.14" cy="177.09" r="3.9" fill="#f8c84f" stroke="#333" stroke-width="0.9"/>
<circle cx="250.42" cy="209.13" r="3.9" fill="#f8c84f" stroke="#333" stroke-width="0.9"/>
<circle cx="274.7" cy="227.68" r="3.9" fill="#f8c84f" stroke="#333" stroke-width="0.9"/>
<circle cx="298.98" cy="241.49" r="3.9" fill="#f8c84f" stroke="#333" stroke-width="0.9"/>
<circle cx="323.26" cy="247.95" r="3.9" fill="#f8c84f" stroke="#333" stroke-width="0.9"/>
<path d="M214 166.1 V272.4 H335.4" fill="none" stroke="#000" stroke-width="1.5" stroke-linecap="butt"/>
<line x1="214" y1="272.4" x2="214" y2="275.2" stroke="#000" stroke-width="1.3"/>
<line x1="238.28" y1="272.4" x2="238.28" y2="275.2" stroke="#000" stroke-width="1.3"/>
<line x1="262.56" y1="272.4" x2="262.56" y2="275.2" stroke="#000" stroke-width="1.3"/>
<line x1="286.84" y1="272.4" x2="286.84" y2="275.2" stroke="#000" stroke-width="1.3"/>
<line x1="311.12" y1="272.4" x2="311.12" y2="275.2" stroke="#000" stroke-width="1.3"/>
<line x1="335.4" y1="272.4" x2="335.4" y2="275.2" stroke="#000" stroke-width="1.3"/>
<line x1="211.4" y1="272.3" x2="214" y2="272.3" stroke="#000" stroke-width="1.3"/>
<text x="209" y="275.4" text-anchor="end" font-size="9">0</text>
<line x1="211.4" y1="254.73" x2="214" y2="254.73" stroke="#000" stroke-width="1.3"/>
<text x="209" y="257.83" text-anchor="end" font-size="9">5</text>
<line x1="211.4" y1="237.17" x2="214" y2="237.17" stroke="#000" stroke-width="1.3"/>
<text x="209" y="240.27" text-anchor="end" font-size="9">10</text>
<line x1="211.4" y1="219.6" x2="214" y2="219.6" stroke="#000" stroke-width="1.3"/>
<text x="209" y="222.7" text-anchor="end" font-size="9">15</text>
<line x1="211.4" y1="202.03" x2="214" y2="202.03" stroke="#000" stroke-width="1.3"/>
<text x="209" y="205.13" text-anchor="end" font-size="9">20</text>
<line x1="211.4" y1="184.47" x2="214" y2="184.47" stroke="#000" stroke-width="1.3"/>
<text x="209" y="187.57" text-anchor="end" font-size="9">25</text>
<line x1="211.4" y1="166.9" x2="214" y2="166.9" stroke="#000" stroke-width="1.3"/>
<text x="209" y="170" text-anchor="end" font-size="9">30</text>
<text x="226.54" y="284" text-anchor="middle" font-size="9.4">S1</text>
<text x="250.82" y="284" text-anchor="middle" font-size="9.4">S2</text>
<text x="275.1" y="284" text-anchor="middle" font-size="9.4">S3</text>
<text x="299.38" y="284" text-anchor="middle" font-size="9.4">S4</text>
<text x="323.66" y="284" text-anchor="middle" font-size="9.4">S5</text>
<g clip-path="url(#c6)"><text transform="translate(183.2 219.15) rotate(-90)" text-anchor="middle" font-size="11.45" textLength="133.3" lengthAdjust="spacingAndGlyphs" class="lab">Spike nitrogen concentration</text></g>
<text transform="translate(195.3 218.4) rotate(-90)" text-anchor="middle" font-size="11.45" textLength="102.8" lengthAdjust="spacingAndGlyphs" class="lab">of DF114 in 2022 (%)</text>
<rect x="447.4" y="166.4" width="61.9" height="106.3" fill="#e4e4e4"/>
<line x1="448" y1="272.7" x2="448" y2="166.8" stroke="#000" stroke-width="2" stroke-dasharray="7.5 7.8"/>
<path d="M399.6 259.97 C402.02 259.85 418.96 259.35 423.8 258.73 C428.64 258.11 443.16 255.52 448 253.76 C452.84 252 467.36 244.61 472.2 241.15 C477.04 237.68 493.98 221.3 496.4 219.09" fill="none" stroke="#c6d4d3" stroke-width="2.5" stroke-linejoin="round"/>
<circle cx="399.6" cy="259.97" r="3.9" fill="#c6d4d3" stroke="#333" stroke-width="0.9"/>
<circle cx="423.8" cy="258.73" r="3.9" fill="#c6d4d3" stroke="#333" stroke-width="0.9"/>
<circle cx="448" cy="253.76" r="3.9" fill="#c6d4d3" stroke="#333" stroke-width="0.9"/>
<circle cx="472.2" cy="241.15" r="3.9" fill="#c6d4d3" stroke="#333" stroke-width="0.9"/>
<circle cx="496.4" cy="219.09" r="3.9" fill="#c6d4d3" stroke="#333" stroke-width="0.9"/>
<path d="M399.6 259.97 C402.02 259.79 418.96 259.35 423.8 258.11 C428.64 256.87 443.16 250.75 448 247.55 C452.84 244.34 467.36 232.33 472.2 226.05 C477.04 219.77 493.98 188.86 496.4 184.73" fill="none" stroke="#4d8fd3" stroke-width="2.5" stroke-linejoin="round"/>
<circle cx="399.6" cy="259.97" r="3.9" fill="#4d8fd3" stroke="#333" stroke-width="0.9"/>
<circle cx="423.8" cy="258.11" r="3.9" fill="#4d8fd3" stroke="#333" stroke-width="0.9"/>
<circle cx="448" cy="247.55" r="3.9" fill="#4d8fd3" stroke="#333" stroke-width="0.9"/>
<circle cx="472.2" cy="226.05" r="3.9" fill="#4d8fd3" stroke="#333" stroke-width="0.9"/>
<circle cx="496.4" cy="184.73" r="3.9" fill="#4d8fd3" stroke="#333" stroke-width="0.9"/>
<path d="M399.6 259.97 C402.02 259.79 418.96 259.38 423.8 258.11 C428.64 256.84 443.16 250.5 448 247.24 C452.84 243.97 467.36 232.01 472.2 225.49 C477.04 218.97 493.98 186.35 496.4 182" fill="none" stroke="#1c8f86" stroke-width="2.5" stroke-linejoin="round"/>
<circle cx="399.6" cy="259.97" r="3.9" fill="#1c8f86" stroke="#333" stroke-width="0.9"/>
<circle cx="423.8" cy="258.11" r="3.9" fill="#1c8f86" stroke="#333" stroke-width="0.9"/>
<circle cx="448" cy="247.24" r="3.9" fill="#1c8f86" stroke="#333" stroke-width="0.9"/>
<circle cx="472.2" cy="225.49" r="3.9" fill="#1c8f86" stroke="#333" stroke-width="0.9"/>
<circle cx="496.4" cy="182" r="3.9" fill="#1c8f86" stroke="#333" stroke-width="0.9"/>
<path d="M399.6 259.85 C402.02 259.64 418.96 259.13 423.8 257.8 C428.64 256.47 443.16 250.14 448 246.55 C452.84 242.96 467.36 228.88 472.2 221.89 C477.04 214.89 493.98 181.12 496.4 176.59" fill="none" stroke="#e4868a" stroke-width="2.5" stroke-linejoin="round"/>
<circle cx="399.6" cy="259.85" r="3.9" fill="#e4868a" stroke="#333" stroke-width="0.9"/>
<circle cx="423.8" cy="257.8" r="3.9" fill="#e4868a" stroke="#333" stroke-width="0.9"/>
<circle cx="448" cy="246.55" r="3.9" fill="#e4868a" stroke="#333" stroke-width="0.9"/>
<circle cx="472.2" cy="221.89" r="3.9" fill="#e4868a" stroke="#333" stroke-width="0.9"/>
<circle cx="496.4" cy="176.59" r="3.9" fill="#e4868a" stroke="#333" stroke-width="0.9"/>
<path d="M399.6 259.85 C402.02 259.64 418.96 258.99 423.8 257.8 C428.64 256.61 443.16 251.2 448 247.92 C452.84 244.64 467.36 231.62 472.2 224.99 C477.04 218.36 493.98 185.96 496.4 181.62" fill="none" stroke="#f8c84f" stroke-width="2.5" stroke-linejoin="round"/>
<circle cx="399.6" cy="259.85" r="3.9" fill="#f8c84f" stroke="#333" stroke-width="0.9"/>
<circle cx="423.8" cy="257.8" r="3.9" fill="#f8c84f" stroke="#333" stroke-width="0.9"/>
<circle cx="448" cy="247.92" r="3.9" fill="#f8c84f" stroke="#333" stroke-width="0.9"/>
<circle cx="472.2" cy="224.99" r="3.9" fill="#f8c84f" stroke="#333" stroke-width="0.9"/>
<circle cx="496.4" cy="181.62" r="3.9" fill="#f8c84f" stroke="#333" stroke-width="0.9"/>
<path d="M387.5 166.8 V272.7 H508.5" fill="none" stroke="#000" stroke-width="1.5" stroke-linecap="butt"/>
<line x1="387.5" y1="272.7" x2="387.5" y2="275.5" stroke="#000" stroke-width="1.3"/>
<line x1="411.7" y1="272.7" x2="411.7" y2="275.5" stroke="#000" stroke-width="1.3"/>
<line x1="435.9" y1="272.7" x2="435.9" y2="275.5" stroke="#000" stroke-width="1.3"/>
<line x1="460.1" y1="272.7" x2="460.1" y2="275.5" stroke="#000" stroke-width="1.3"/>
<line x1="484.3" y1="272.7" x2="484.3" y2="275.5" stroke="#000" stroke-width="1.3"/>
<line x1="508.5" y1="272.7" x2="508.5" y2="275.5" stroke="#000" stroke-width="1.3"/>
<line x1="384.9" y1="272.4" x2="387.5" y2="272.4" stroke="#000" stroke-width="1.3"/>
<text x="382.5" y="275.5" text-anchor="end" font-size="9">−<tspan dx="0.7">2</tspan></text>
<line x1="384.9" y1="253.76" x2="387.5" y2="253.76" stroke="#000" stroke-width="1.3"/>
<text x="382.5" y="256.86" text-anchor="end" font-size="9">1</text>
<line x1="384.9" y1="235.12" x2="387.5" y2="235.12" stroke="#000" stroke-width="1.3"/>
<text x="382.5" y="238.22" text-anchor="end" font-size="9">4</text>
<line x1="384.9" y1="216.48" x2="387.5" y2="216.48" stroke="#000" stroke-width="1.3"/>
<text x="382.5" y="219.58" text-anchor="end" font-size="9">7</text>
<line x1="384.9" y1="197.84" x2="387.5" y2="197.84" stroke="#000" stroke-width="1.3"/>
<text x="382.5" y="200.94" text-anchor="end" font-size="9">10</text>
<line x1="384.9" y1="179.2" x2="387.5" y2="179.2" stroke="#000" stroke-width="1.3"/>
<text x="382.5" y="182.3" text-anchor="end" font-size="9">13</text>
<text x="400.15" y="284.3" text-anchor="middle" font-size="9.4">S1</text>
<text x="424.35" y="284.3" text-anchor="middle" font-size="9.4">S2</text>
<text x="448.55" y="284.3" text-anchor="middle" font-size="9.4">S3</text>
<text x="472.75" y="284.3" text-anchor="middle" font-size="9.4">S4</text>
<text x="496.95" y="284.3" text-anchor="middle" font-size="9.4">S5</text>
<text transform="translate(357.5 223.9) rotate(-90)" text-anchor="middle" font-size="11.45" textLength="119.8" lengthAdjust="spacingAndGlyphs" class="lab">Spike dry weight of LD11</text>
<text transform="translate(370.3 222.3) rotate(-90)" text-anchor="middle" font-size="11.45" textLength="51.2" lengthAdjust="spacingAndGlyphs" class="lab">in 2022 (g)</text>
<rect x="622.12" y="165.7" width="62.42" height="107.2" fill="#e4e4e4"/>
<line x1="622.73" y1="272.9" x2="622.73" y2="166.1" stroke="#000" stroke-width="2" stroke-dasharray="7.5 7.8"/>
<path d="M573.91 199.02 C576.35 201.62 593.43 220.65 598.32 224.97 C603.2 229.29 617.84 239.77 622.73 242.23 C627.61 244.69 642.25 248.16 647.13 249.57 C652.02 250.98 669.1 255.64 671.54 256.31" fill="none" stroke="#c6d4d3" stroke-width="2.5" stroke-linejoin="round"/>
<circle cx="573.91" cy="199.02" r="3.9" fill="#c6d4d3" stroke="#333" stroke-width="0.9"/>
<circle cx="598.32" cy="224.97" r="3.9" fill="#c6d4d3" stroke="#333" stroke-width="0.9"/>
<circle cx="622.73" cy="242.23" r="3.9" fill="#c6d4d3" stroke="#333" stroke-width="0.9"/>
<circle cx="647.13" cy="249.57" r="3.9" fill="#c6d4d3" stroke="#333" stroke-width="0.9"/>
<circle cx="671.54" cy="256.31" r="3.9" fill="#c6d4d3" stroke="#333" stroke-width="0.9"/>
<path d="M573.91 176.61 C576.35 180.7 593.43 211.53 598.32 217.52 C603.2 223.51 617.84 233.79 622.73 236.48 C627.61 239.16 642.25 242.66 647.13 244.35 C652.02 246.04 669.1 252.48 671.54 253.39" fill="none" stroke="#4d8fd3" stroke-width="2.5" stroke-linejoin="round"/>
<circle cx="573.91" cy="176.61" r="3.9" fill="#4d8fd3" stroke="#333" stroke-width="0.9"/>
<circle cx="598.32" cy="217.52" r="3.9" fill="#4d8fd3" stroke="#333" stroke-width="0.9"/>
<circle cx="622.73" cy="236.48" r="3.9" fill="#4d8fd3" stroke="#333" stroke-width="0.9"/>
<circle cx="647.13" cy="244.35" r="3.9" fill="#4d8fd3" stroke="#333" stroke-width="0.9"/>
<circle cx="671.54" cy="253.39" r="3.9" fill="#4d8fd3" stroke="#333" stroke-width="0.9"/>
<path d="M573.91 175.12 C576.35 179.17 593.43 209.88 598.32 215.58 C603.2 221.28 617.84 229.57 622.73 232.1 C627.61 234.63 642.25 239.02 647.13 240.85 C652.02 242.69 669.1 249.46 671.54 250.42" fill="none" stroke="#1c8f86" stroke-width="2.5" stroke-linejoin="round"/>
<circle cx="573.91" cy="175.12" r="3.9" fill="#1c8f86" stroke="#333" stroke-width="0.9"/>
<circle cx="598.32" cy="215.58" r="3.9" fill="#1c8f86" stroke="#333" stroke-width="0.9"/>
<circle cx="622.73" cy="232.1" r="3.9" fill="#1c8f86" stroke="#333" stroke-width="0.9"/>
<circle cx="647.13" cy="240.85" r="3.9" fill="#1c8f86" stroke="#333" stroke-width="0.9"/>
<circle cx="671.54" cy="250.42" r="3.9" fill="#1c8f86" stroke="#333" stroke-width="0.9"/>
<path d="M573.91 177.84 C576.35 181.61 593.43 210.12 598.32 215.51 C603.2 220.89 617.84 229.09 622.73 231.71 C627.61 234.33 642.25 240.06 647.13 241.7 C652.02 243.35 669.1 247.51 671.54 248.16" fill="none" stroke="#e4868a" stroke-width="2.5" stroke-linejoin="round"/>
<circle cx="573.91" cy="177.84" r="3.9" fill="#e4868a" stroke="#333" stroke-width="0.9"/>
<circle cx="598.32" cy="215.51" r="3.9" fill="#e4868a" stroke="#333" stroke-width="0.9"/>
<circle cx="622.73" cy="231.71" r="3.9" fill="#e4868a" stroke="#333" stroke-width="0.9"/>
<circle cx="647.13" cy="241.7" r="3.9" fill="#e4868a" stroke="#333" stroke-width="0.9"/>
<circle cx="671.54" cy="248.16" r="3.9" fill="#e4868a" stroke="#333" stroke-width="0.9"/>
<path d="M573.91 181.73 C576.35 184.92 593.43 209.06 598.32 213.64 C603.2 218.22 617.84 224.72 622.73 227.51 C627.61 230.3 642.25 239.5 647.13 241.52 C652.02 243.55 669.1 247.12 671.54 247.74" fill="none" stroke="#f8c84f" stroke-width="2.5" stroke-linejoin="round"/>
<circle cx="573.91" cy="181.73" r="3.9" fill="#f8c84f" stroke="#333" stroke-width="0.9"/>
<circle cx="598.32" cy="213.64" r="3.9" fill="#f8c84f" stroke="#333" stroke-width="0.9"/>
<circle cx="622.73" cy="227.51" r="3.9" fill="#f8c84f" stroke="#333" stroke-width="0.9"/>
<circle cx="647.13" cy="241.52" r="3.9" fill="#f8c84f" stroke="#333" stroke-width="0.9"/>
<circle cx="671.54" cy="247.74" r="3.9" fill="#f8c84f" stroke="#333" stroke-width="0.9"/>
<path d="M561.7 166.1 V272.9 H683.75" fill="none" stroke="#000" stroke-width="1.5" stroke-linecap="butt"/>
<line x1="561.7" y1="272.9" x2="561.7" y2="275.7" stroke="#000" stroke-width="1.3"/>
<line x1="586.11" y1="272.9" x2="586.11" y2="275.7" stroke="#000" stroke-width="1.3"/>
<line x1="610.52" y1="272.9" x2="610.52" y2="275.7" stroke="#000" stroke-width="1.3"/>
<line x1="634.93" y1="272.9" x2="634.93" y2="275.7" stroke="#000" stroke-width="1.3"/>
<line x1="659.34" y1="272.9" x2="659.34" y2="275.7" stroke="#000" stroke-width="1.3"/>
<line x1="683.75" y1="272.9" x2="683.75" y2="275.7" stroke="#000" stroke-width="1.3"/>
<line x1="559.1" y1="272.8" x2="561.7" y2="272.8" stroke="#000" stroke-width="1.3"/>
<text x="556.7" y="275.9" text-anchor="end" font-size="9">0</text>
<line x1="559.1" y1="255.15" x2="561.7" y2="255.15" stroke="#000" stroke-width="1.3"/>
<text x="556.7" y="258.25" text-anchor="end" font-size="9">5</text>
<line x1="559.1" y1="237.5" x2="561.7" y2="237.5" stroke="#000" stroke-width="1.3"/>
<text x="556.7" y="240.6" text-anchor="end" font-size="9">10</text>
<line x1="559.1" y1="219.85" x2="561.7" y2="219.85" stroke="#000" stroke-width="1.3"/>
<text x="556.7" y="222.95" text-anchor="end" font-size="9">15</text>
<line x1="559.1" y1="202.2" x2="561.7" y2="202.2" stroke="#000" stroke-width="1.3"/>
<text x="556.7" y="205.3" text-anchor="end" font-size="9">20</text>
<line x1="559.1" y1="184.55" x2="561.7" y2="184.55" stroke="#000" stroke-width="1.3"/>
<text x="556.7" y="187.65" text-anchor="end" font-size="9">25</text>
<line x1="559.1" y1="166.9" x2="561.7" y2="166.9" stroke="#000" stroke-width="1.3"/>
<text x="556.7" y="170" text-anchor="end" font-size="9">30</text>
<text x="574.21" y="284.5" text-anchor="middle" font-size="9.4">S1</text>
<text x="598.62" y="284.5" text-anchor="middle" font-size="9.4">S2</text>
<text x="623.02" y="284.5" text-anchor="middle" font-size="9.4">S3</text>
<text x="647.43" y="284.5" text-anchor="middle" font-size="9.4">S4</text>
<text x="671.84" y="284.5" text-anchor="middle" font-size="9.4">S5</text>
<text transform="translate(531.3 220.75) rotate(-90)" text-anchor="middle" font-size="11.45" textLength="133.3" lengthAdjust="spacingAndGlyphs" class="lab">Spike nitrogen concentration</text>
<text transform="translate(544.2 219.55) rotate(-90)" text-anchor="middle" font-size="11.45" textLength="98.1" lengthAdjust="spacingAndGlyphs" class="lab">of LD11 in 2022 (%)</text>
<rect x="47.7" y="19.6" width="13.4" height="5.8" fill="#c6d4d3" stroke="#000" stroke-width="1.4"/>
<text class="lg" x="63.4" y="25.6" font-size="11.7" font-weight="bold">N0</text>
<rect x="47.7" y="28.1" width="13.4" height="5.8" fill="#4d8fd3" stroke="#000" stroke-width="1.4"/>
<text class="lg" x="63.4" y="34.1" font-size="11.7" font-weight="bold">N1</text>
<rect x="47.7" y="36.6" width="13.4" height="5.8" fill="#1c8f86" stroke="#000" stroke-width="1.4"/>
<text class="lg" x="63.4" y="42.6" font-size="11.7" font-weight="bold">N2</text>
<rect x="47.7" y="45.1" width="13.4" height="5.8" fill="#e4868a" stroke="#000" stroke-width="1.4"/>
<text class="lg" x="63.4" y="51.1" font-size="11.7" font-weight="bold">N3</text>
<rect x="47.7" y="53.6" width="13.4" height="5.8" fill="#f8c84f" stroke="#000" stroke-width="1.4"/>
<text class="lg" x="63.4" y="59.6" font-size="11.7" font-weight="bold">N4</text>
</svg>
</body></html>
